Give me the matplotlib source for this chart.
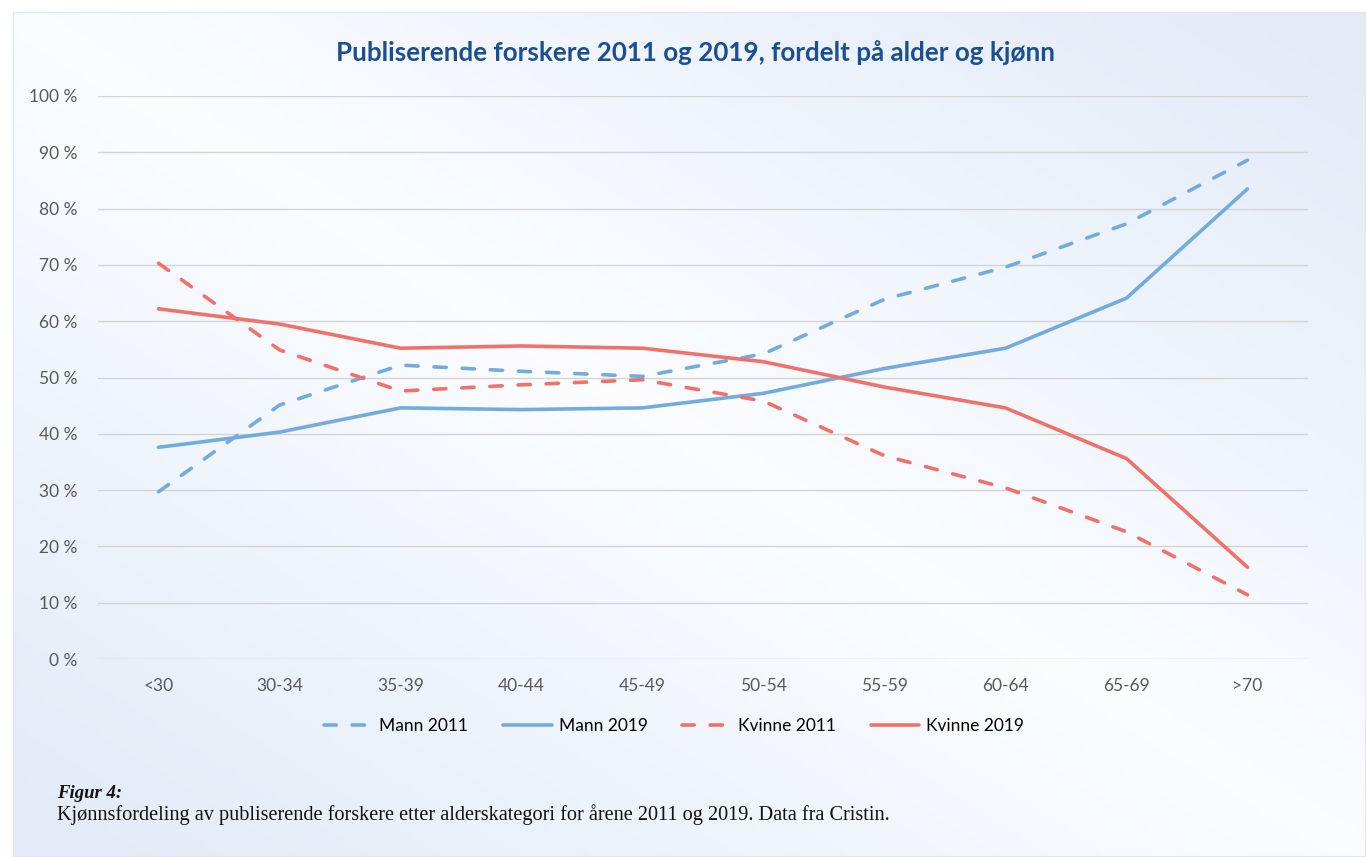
import matplotlib.pyplot as plt
import numpy as np
from matplotlib.ticker import FuncFormatter

categories = ['<30', '30-34', '35-39', '40-44', '45-49', '50-54', '55-59', '60-64', '65-69', '>70']
mann_2011 = [29.7, 45.1, 52.2, 51.1, 50.2, 54.2, 63.9, 69.6, 77.3, 88.6]
mann_2019 = [37.6, 40.3, 44.6, 44.3, 44.6, 47.2, 51.6, 55.2, 64.1, 83.5]
kvinne_2011 = [70.3, 54.9, 47.6, 48.7, 49.6, 45.8, 36.1, 30.4, 22.6, 11.4]
kvinne_2019 = [62.2, 59.5, 55.2, 55.6, 55.2, 52.8, 48.3, 44.6, 35.6, 16.3]

title = 'Publiserende forskere 2011 og 2019, fordelt på alder og kjønn'
caption_head = 'Figur 4:'
caption = 'Kjønnsfordeling av publiserende forskere etter alderskategori for årene 2011 og 2019. Data fra Cristin.'

BLUE = '#72acdd'
RED = '#f0716a'
W, H = 1366, 857

fig = plt.figure(figsize=(W / 100, H / 100), dpi=100)
fig.patch.set_facecolor('white')

# gradient background box
bg = fig.add_axes([13 / W, 0, 1 - 13 / W, 1 - 12 / H])
bg.set_axis_off()
u, v = np.meshgrid(np.linspace(0, 1, 300), np.linspace(0, 1, 200))
s = np.clip(np.abs(u - v) * 1.1, 0, 1)
c0 = np.array([0.985, 0.99, 1.0])
c1 = np.array([0.89, 0.925, 0.972])
img = c0[None, None, :] * (1 - s[..., None]) + c1[None, None, :] * s[..., None]
bg.imshow(img, aspect='auto', extent=[0, 1, 0, 1], origin='upper')
bg.plot([0, 1, 1, 0, 0], [0, 0, 1, 1, 0], color='#dde6f1', lw=1.5, transform=bg.transAxes)
bg.set_xlim(0, 1)
bg.set_ylim(0, 1)

ax = fig.add_axes([98 / W, 1 - 659 / H, (1308 - 98) / W, (659 - 96) / H])
ax.patch.set_alpha(0)
x = np.arange(len(categories))

dash = (0, (3.4, 4.4))
ax.plot(x, mann_2011, color=BLUE, lw=2.6, ls=dash, dash_capstyle='round', label='Mann 2011')
ax.plot(x, mann_2019, color=BLUE, lw=2.6, solid_capstyle='round', label='Mann 2019')
ax.plot(x, kvinne_2011, color=RED, lw=2.6, ls=dash, dash_capstyle='round', label='Kvinne 2011')
ax.plot(x, kvinne_2019, color=RED, lw=2.6, solid_capstyle='round', label='Kvinne 2019')

ax.set_xlim(-0.5, len(categories) - 0.5)
ax.set_ylim(0, 100)
ax.set_yticks(range(0, 101, 10))
ax.yaxis.set_major_formatter(FuncFormatter(lambda val, pos: f'{val:.0f} %'))
ax.set_xticks(x)
ax.set_xticklabels(categories)
ax.grid(axis='y', color='#d4d4d4', lw=1)
ax.set_axisbelow(True)
for sp in ax.spines.values():
    sp.set_visible(False)
ax.tick_params(length=0, labelsize=12.5, labelcolor='#595959', pad=15)
ax.tick_params(axis='x', pad=14)
for t in ax.get_xticklabels() + ax.get_yticklabels():
    t.set_family('Lato')

fig.text(0.509, 1 - 53 / H, title, ha='center', va='center', fontsize=18.7,
         fontweight='bold', color='#1c4f8f', family='Lato')

leg = fig.legend(loc='center', bbox_to_anchor=(674 / W, 1 - 726 / H), ncol=4, frameon=False,
                 handlelength=2.8, handletextpad=0.4, columnspacing=2.0,
                 prop={'family': 'Lato', 'size': 12.5})

fig.text(57 / W, 1 - 793 / H, caption_head, ha='left', va='center', fontsize=13.5,
         fontweight='bold', style='italic', family='Liberation Serif', color='#111111')
fig.text(57 / W, 1 - 815 / H, caption, ha='left', va='center', fontsize=14.6,
         family='Liberation Serif', color='#111111')

fig.savefig('out.png', dpi=100)
